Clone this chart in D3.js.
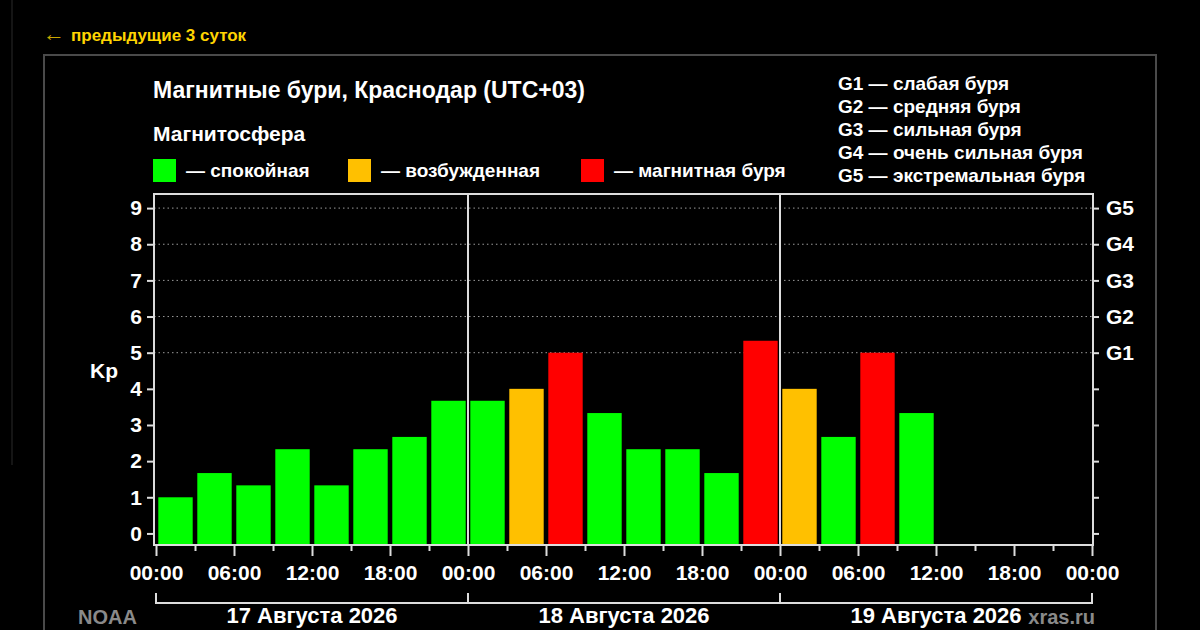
<!DOCTYPE html>
<html>
<head>
<meta charset="utf-8">
<script src="https://cdn.jsdelivr.net/npm/d3@7"></script>
<style>
  body { margin: 0; background: #000; }
  svg { display: block; font-family: "Liberation Sans", Arial, sans-serif; font-weight: bold; }
</style>
</head>
<body>
<div id="chart"></div>
<script>
// data
var dayLabels = ["17 Августа 2026", "18 Августа 2026", "19 Августа 2026"];
// Kp for each 3-hour slot, starting 17 Aug 00:00
var kpValues = [1, 1.67, 1.33, 2.33, 1.33, 2.33, 2.67, 3.67,
                3.67, 4, 5, 3.33, 2.33, 2.33, 1.67, 5.33,
                4, 2.67, 5, 3.33];
var kpTicks = [0, 1, 2, 3, 4, 5, 6, 7, 8, 9];
var gLevels = ["G1", "G2", "G3", "G4", "G5"]; // Kp 5..9
var gLegend = ["G1 — слабая буря", "G2 — средняя буря", "G3 — сильная буря",
               "G4 — очень сильная буря", "G5 — экстремальная буря"];
var stateNames = ["— спокойная", "— возбужденная", "— магнитная буря"];
var stateColors = ["#00ff00", "#ffc000", "#ff0000"];

var svgWidth = 1200;
var svgHeight = 630;

var plot = { left: 154, right: 1093, top: 194, bottom: 545 };

var svg = d3.select("#chart")
  .append("svg")
  .attr("width", svgWidth)
  .attr("height", svgHeight);

svg.append("rect")
  .attr("width", svgWidth)
  .attr("height", svgHeight)
  .attr("fill", "#000");

// page decoration
svg.append("line")
  .attr("x1", 12).attr("x2", 12).attr("y1", 0).attr("y2", 465)
  .attr("stroke", "#2a2a2a").attr("stroke-width", 1);

svg.append("rect")
  .attr("x", 44).attr("y", 55)
  .attr("width", 1112).attr("height", 600)
  .attr("fill", "none")
  .attr("stroke", "#4a4a4a")
  .attr("stroke-width", 2);

svg.append("text")
  .attr("x", 43).attr("y", 41)
  .attr("font-size", 22)
  .attr("font-weight", "normal")
  .attr("fill", "#c9a800")
  .text("←");

svg.append("text")
  .attr("x", 71).attr("y", 41)
  .attr("font-size", 17)
  .attr("fill", "#ffd400")
  .text("предыдущие 3 суток");

// title & legend
svg.append("text")
  .attr("x", 153).attr("y", 98)
  .attr("font-size", 23)
  .attr("fill", "#fff")
  .text("Магнитные бури, Краснодар (UTC+03)");

svg.append("text")
  .attr("x", 153).attr("y", 141)
  .attr("font-size", 21)
  .attr("fill", "#fff")
  .text("Магнитосфера");

var legendX = [153, 348, 581];
var legend = svg.selectAll(".legend")
  .data(stateNames)
  .enter()
  .append("g")
  .attr("class", "legend")
  .attr("transform", (d, i) => `translate(${legendX[i]}, 159)`);

legend.append("rect")
  .attr("width", 23).attr("height", 23)
  .attr("fill", (d, i) => stateColors[i]);

legend.append("text")
  .attr("x", 33).attr("y", 18)
  .attr("font-size", 19)
  .attr("fill", "#fff")
  .text(d => d);

svg.selectAll(".glegend")
  .data(gLegend)
  .enter()
  .append("text")
  .attr("class", "glegend")
  .attr("x", 838)
  .attr("y", (d, i) => 90 + i * 23)
  .attr("font-size", 19)
  .attr("fill", "#fff")
  .text(d => d);

// scales
var xScale = d3.scaleLinear()
  .domain([0, 72])
  .range([156, 1092]);

var yScale = d3.scaleLinear()
  .domain([-0.32, 9.39])
  .range([plot.bottom, plot.top]);

var kpColor = d3.scaleThreshold()
  .domain([4, 5])
  .range(stateColors);

// dotted grid at storm levels
svg.append("g")
  .selectAll("line")
  .data(kpTicks.filter(d => d >= 5))
  .enter()
  .append("line")
  .attr("x1", plot.left).attr("x2", plot.right)
  .attr("y1", d => yScale(d)).attr("y2", d => yScale(d))
  .attr("stroke", "#9a9a9a")
  .attr("stroke-width", 1)
  .attr("stroke-dasharray", "1.5,3");

// bars
svg.append("g")
  .selectAll("rect")
  .data(kpValues)
  .enter()
  .append("rect")
  .attr("x", (d, i) => xScale(i * 3) + 2.3)
  .attr("width", (d, i) => xScale(i * 3 + 3) - xScale(i * 3) - 4.6)
  .attr("y", d => yScale(d))
  .attr("height", d => yScale(-0.32) - yScale(d))
  .attr("fill", d => kpColor(d));

// day separators
svg.append("g")
  .selectAll("line")
  .data([24, 48])
  .enter()
  .append("line")
  .attr("x1", d => xScale(d)).attr("x2", d => xScale(d))
  .attr("y1", plot.top).attr("y2", plot.bottom)
  .attr("stroke", "#ddd")
  .attr("stroke-width", 2);

// frame
svg.append("rect")
  .attr("x", plot.left).attr("y", plot.top)
  .attr("width", plot.right - plot.left)
  .attr("height", plot.bottom - plot.top)
  .attr("fill", "none")
  .attr("stroke", "#ddd")
  .attr("stroke-width", 2);

function styleAxis(g) {
  g.select(".domain").remove();
  g.selectAll(".tick line").attr("stroke", "#ddd").attr("stroke-width", 2);
  g.selectAll(".tick text")
    .attr("fill", "#fff")
    .attr("font-size", 21)
    .attr("font-family", "Liberation Sans, Arial, sans-serif")
    .attr("font-weight", "bold");
}

// left axis
svg.append("g")
  .attr("transform", `translate(${plot.left}, 0)`)
  .call(d3.axisLeft(yScale).tickValues(kpTicks).tickSize(7).tickPadding(5))
  .call(styleAxis);

svg.append("text")
  .attr("x", 90).attr("y", 378)
  .attr("font-size", 21)
  .attr("fill", "#fff")
  .text("Kp");

// right axis with G levels
svg.append("g")
  .attr("transform", `translate(${plot.right}, 0)`)
  .call(d3.axisRight(yScale)
    .tickValues(kpTicks)
    .tickSize(6)
    .tickPadding(7)
    .tickFormat(d => d >= 5 ? gLevels[d - 5] : ""))
  .call(styleAxis);

// bottom axis: minor every 3h, major with labels every 6h
var hours3 = d3.range(0, 73, 3);
svg.append("g")
  .attr("transform", `translate(0, ${plot.bottom})`)
  .call(d3.axisBottom(xScale)
    .tickValues(hours3.filter(h => h % 6 !== 0))
    .tickSize(6)
    .tickFormat(""))
  .call(styleAxis);

svg.append("g")
  .attr("transform", `translate(0, ${plot.bottom})`)
  .call(d3.axisBottom(xScale)
    .tickValues(hours3.filter(h => h % 6 === 0))
    .tickSize(11)
    .tickPadding(9)
    .tickFormat(h => d3.format("02")(h % 24) + ":00"))
  .call(styleAxis);

// day brackets
var brackets = svg.append("g")
  .selectAll("g")
  .data(dayLabels)
  .enter()
  .append("g");

brackets.append("path")
  .attr("d", (d, i) => {
    var x0 = xScale(i * 24), x1 = xScale(i * 24 + 24);
    return `M${x0},593V603H${x1}V593`;
  })
  .attr("fill", "none")
  .attr("stroke", "#ddd")
  .attr("stroke-width", 2);

brackets.append("text")
  .attr("x", (d, i) => xScale(i * 24 + 12))
  .attr("y", 623)
  .attr("text-anchor", "middle")
  .attr("font-size", 22)
  .attr("fill", "#fff")
  .text(d => d);

svg.append("text")
  .attr("x", 78).attr("y", 624)
  .attr("font-size", 20)
  .attr("fill", "#8a8a8a")
  .text("NOAA");

svg.append("text")
  .attr("x", 1095).attr("y", 624)
  .attr("text-anchor", "end")
  .attr("font-size", 20)
  .attr("fill", "#8a8a8a")
  .text("xras.ru");
</script>
</body>
</html>
